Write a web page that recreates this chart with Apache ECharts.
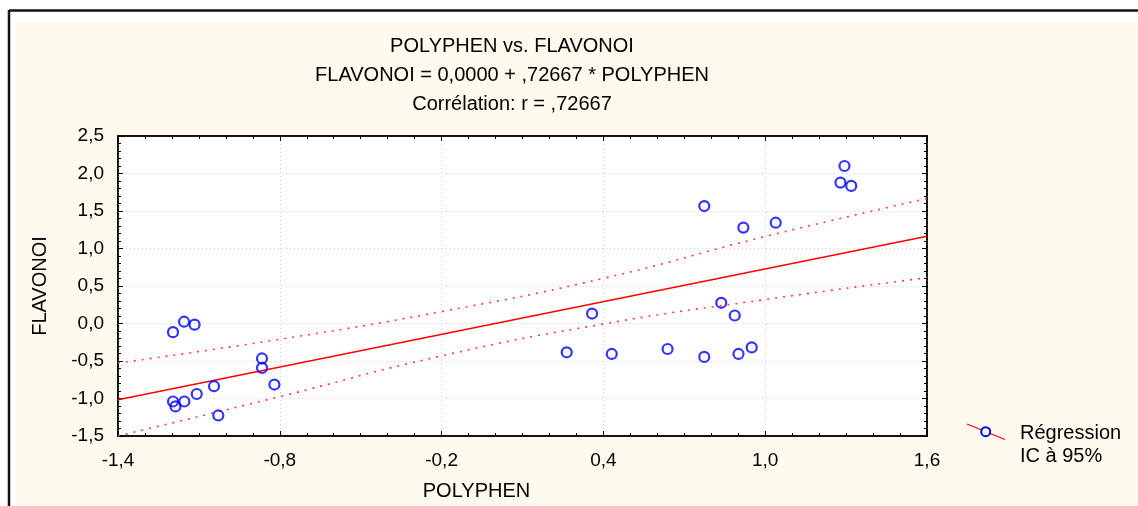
<!DOCTYPE html>
<html>
<head>
<meta charset="utf-8">
<script src="https://cdn.jsdelivr.net/npm/echarts@6/dist/echarts.min.js"></script>
<style>
html,body{margin:0;padding:0;background:#fff;}
#c{width:1138px;height:506px;}
</style>
</head>
<body>
<div id="c"></div>
<script>
const polyphen = [-1.196, -1.155, -1.116, -0.866, -0.866, -0.820, -1.044, -1.108, -1.196, -1.187, -1.154, -1.028,
  1.294, 1.279, 1.319, 0.774, 0.919, 1.039, 0.837, 0.887, 0.358, 0.264, 0.431, 0.638, 0.774, 0.901, 0.950];
const flavonoi = [-0.115, 0.024, -0.015, -0.466, -0.592, -0.814, -0.836, -0.940, -1.040, -1.105, -1.040, -1.226,
  2.100, 1.879, 1.835, 1.566, 1.279, 1.344, 0.276, 0.107, 0.133, -0.384, -0.406, -0.340, -0.445, -0.406, -0.319];

// Regression line endpoints (FLAVONOI = 0,0000 + ,72667 * POLYPHEN)
const regX = [-1.4, 1.6];
const regY = [-1.017, 1.163];

// 95% confidence band
const bandX = [-1.4, -0.8, -0.2, 0.4, 1.0, 1.6];
const bandUpper = [-0.527, -0.210, 0.159, 0.602, 1.160, 1.666];
const bandLower = [-1.500, -0.975, -0.432, -0.006, 0.320, 0.611];

const xTicks = { min: -1.4, max: 1.6, interval: 0.6 };
const yTicks = { min: -1.5, max: 2.5, interval: 0.5 };

const titleLines = ['POLYPHEN vs. FLAVONOI', 'FLAVONOI = 0,0000 + ,72667 * POLYPHEN', 'Corrélation: r = ,72667'];
const legendLines = ['Régression', 'IC à 95%'];

const zip = (a, b) => a.map((v, i) => [v, b[i]]);
const fmt = v => (Math.round(v * 10) / 10).toFixed(1).replace('.', ',');

const FONT = '"Liberation Sans", Arial, sans-serif';
const axisCommon = {
  axisLine: { show: true, onZero: false, lineStyle: { color: '#000', width: 1.5 } },
  axisTick: { show: true, inside: true, length: 5, lineStyle: { color: '#000', width: 1 } },
  minorTick: { show: true, length: 3, lineStyle: { color: '#000', width: 1 } },
  splitLine: { show: true, lineStyle: { color: '#cfcfcf', type: [1, 3], width: 1 } }
};

const chart = echarts.init(document.getElementById('c'), null, { renderer: 'canvas' });
chart.setOption({
  backgroundColor: '#ffffff',
  animation: false,
  title: {
    text: titleLines.join('\n'),
    left: 507,
    top: 27,
    textAlign: 'center',
    textStyle: { fontFamily: FONT, fontSize: 20, fontWeight: 'normal', color: '#000', lineHeight: 29 }
  },
  graphic: [
    { type: 'rect', z: -10, shape: { x: 17, y: 22, width: 1130, height: 500 }, style: { fill: '#FFF9EE' }, silent: true },
    { type: 'line', z: -5, shape: { x1: 9, y1: 10.5, x2: 1138, y2: 10.5 }, style: { stroke: '#111', lineWidth: 2.5 } },
    { type: 'line', z: -5, shape: { x1: 9, y1: 10, x2: 9, y2: 506 }, style: { stroke: '#111', lineWidth: 2.5 } },
    { type: 'line', shape: { x1: 967, y1: 424, x2: 1005, y2: 439.5 }, style: { stroke: '#ff0000', lineWidth: 1.2 } },
    { type: 'circle', shape: { cx: 985.7, cy: 431.7, r: 4.5 }, style: { fill: '#ffffff', stroke: '#0000ff', lineWidth: 2 } },
    { type: 'text', left: 1020, top: 422, style: { text: legendLines.join('\n'), font: '20px ' + FONT, fill: '#000', lineHeight: 23 } }
  ],
  grid: {
    left: 118, top: 136, width: 809, height: 307,
    show: true, backgroundColor: '#ffffff', borderColor: '#000', borderWidth: 1.5
  },
  xAxis: [
    Object.assign({
      type: 'value', min: xTicks.min, max: xTicks.max, interval: xTicks.interval, position: 'bottom',
      name: 'POLYPHEN', nameLocation: 'middle', nameGap: 45,
      nameTextStyle: { fontFamily: FONT, fontSize: 20, color: '#000', padding: [0, 92, 0, 0] },
      axisLabel: { fontFamily: FONT, fontSize: 19, color: '#000', margin: 15, formatter: fmt, showMinLabel: true, showMaxLabel: true }
    }, axisCommon, { minorTick: Object.assign({ splitNumber: 6 }, axisCommon.minorTick) }),
    Object.assign({
      type: 'value', min: xTicks.min, max: xTicks.max, interval: xTicks.interval, position: 'top',
      axisLabel: { show: false }
    }, axisCommon, { splitLine: { show: false }, minorTick: Object.assign({ splitNumber: 6 }, axisCommon.minorTick) })
  ],
  yAxis: [
    Object.assign({
      type: 'value', min: yTicks.min, max: yTicks.max, interval: yTicks.interval, position: 'left',
      name: 'FLAVONOI', nameLocation: 'middle', nameGap: 68,
      nameTextStyle: { fontFamily: FONT, fontSize: 20, color: '#000' },
      axisLabel: { fontFamily: FONT, fontSize: 19, color: '#000', margin: 14, formatter: fmt, showMinLabel: true, showMaxLabel: true }
    }, axisCommon, { minorTick: Object.assign({ splitNumber: 5 }, axisCommon.minorTick) }),
    Object.assign({
      type: 'value', min: yTicks.min, max: yTicks.max, interval: yTicks.interval, position: 'right',
      axisLabel: { show: false }
    }, axisCommon, { splitLine: { show: false }, minorTick: Object.assign({ splitNumber: 5 }, axisCommon.minorTick) })
  ],
  series: [
    {
      name: 'IC sup', type: 'line', data: zip(bandX, bandUpper), smooth: true, symbol: 'none',
      lineStyle: { color: '#ff3b3b', width: 1.6, type: [2, 6] }, z: 2, clip: true
    },
    {
      name: 'IC inf', type: 'line', data: zip(bandX, bandLower), smooth: true, symbol: 'none',
      lineStyle: { color: '#ff3b3b', width: 1.6, type: [2, 6] }, z: 2, clip: true
    },
    {
      name: 'Régression', type: 'line', data: zip(regX, regY), symbol: 'none',
      lineStyle: { color: '#ff0000', width: 1.4 }, z: 3
    },
    {
      name: 'Points', type: 'scatter', data: zip(polyphen, flavonoi), symbol: 'circle', symbolSize: 10,
      itemStyle: { color: 'rgba(255,255,255,0)', borderColor: '#0000ff', borderWidth: 2.2 }, z: 4
    }
  ]
});
</script>
</body>
</html>
